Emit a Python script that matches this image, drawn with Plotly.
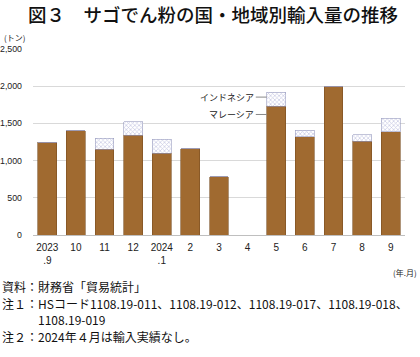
import plotly.graph_objects as go

categories = ["2023<br>.9", "10", "11", "12", "2024<br>.1", "2", "3", "4", "5", "6", "7", "8", "9"]
malaysia = [1250, 1400, 1150, 1340, 1100, 1160, 780, 0, 1730, 1320, 2000, 1260, 1390]
indonesia = [0, 0, 150, 180, 190, 0, 0, 0, 190, 90, 0, 90, 180]
y_ticks = [0, 500, 1000, 1500, 2000, 2500]
y_tick_labels = ["0", "500", "1,000", "1,500", "2,000", "2,500"]

FONT = "Liberation Sans, Arial, Noto Sans CJK JP, sans-serif"
JP = "Noto Sans CJK JP, sans-serif"
BROWN = "#A06A30"

fig = go.Figure()
fig.add_trace(go.Bar(
    x=list(range(len(categories))), y=malaysia, name="マレーシア",
    marker=dict(color=BROWN, line=dict(color="#7a4f22", width=0.6)),
))
fig.add_trace(go.Bar(
    x=list(range(len(categories))), y=indonesia, name="インドネシア",
    marker=dict(color="white", line=dict(color="#9a9cc0", width=0.6),
                pattern=dict(shape="x", fgcolor="#9094c8", bgcolor="white", size=3, solidity=0.4)),
))

fig.update_layout(
    width=420, height=357,
    margin=dict(l=33, r=15, t=49, b=122, autoexpand=False),
    barmode="stack", bargap=0.34,
    showlegend=False,
    plot_bgcolor="white", paper_bgcolor="white",
    font=dict(family=FONT, size=10, color="#222"),
)
fig.update_xaxes(
    tickmode="array", tickvals=list(range(len(categories))), ticktext=categories,
    range=[-0.5, len(categories) - 0.5], automargin=False,
    showline=True, linecolor="#bfbfbf", linewidth=1, ticks="",
    tickfont=dict(size=10, family=FONT), ticklabelstandoff=3,
)
fig.update_yaxes(
    range=[0, 2500], tickmode="array", tickvals=y_ticks, ticktext=y_tick_labels,
    showgrid=True, gridcolor="#d9d9d9", gridwidth=1, zeroline=False, automargin=False,
    ticks="", tickfont=dict(size=8.8, family=FONT), ticklabelstandoff=10,
)

# series labels next to the May 2024 bar
idx = 8
fig.add_annotation(x=idx - 0.33, y=malaysia[idx] + indonesia[idx] * 0.65, text="インドネシア",
                   showarrow=True, arrowhead=0, arrowwidth=1, arrowcolor="#888",
                   ax=-11, ay=0, xanchor="right", font=dict(family=JP, size=9, color="#222"))
fig.add_annotation(x=idx - 0.33, y=malaysia[idx] - 110, text="マレーシア",
                   showarrow=True, arrowhead=0, arrowwidth=1, arrowcolor="#888",
                   ax=-11, ay=0, xanchor="right", font=dict(family=JP, size=9, color="#222"))

# title and texts
fig.add_annotation(xref="paper", yref="paper", x=0.485, y=1, yshift=50, yanchor="top",
                   xanchor="center", showarrow=False,
                   text="図３　サゴでん粉の国・地域別輸入量の推移",
                   font=dict(family=JP, size=18.5, color="#111", weight=500))
fig.add_annotation(xref="paper", yref="paper", x=0, xshift=-31, y=1, yshift=19, yanchor="top",
                   xanchor="left", showarrow=False, text="(トン)",
                   font=dict(family=JP, size=8, color="#222"))
fig.add_annotation(xref="paper", yref="paper", x=1, xshift=14, y=0, yshift=-30, yanchor="top",
                   xanchor="right", showarrow=False, text="(年.月)",
                   font=dict(family=JP, size=8, color="#222"))

notes = [
    "資料：財務省「貿易統計」",
    "注１：HSコード1108.19-011、1108.19-012、1108.19-017、1108.19-018、",
    "　　　1108.19-019",
    "注２：2024年４月は輸入実績なし。",
]
for i, t in enumerate(notes):
    fig.add_annotation(xref="paper", yref="paper", x=0, xshift=-33, y=0, yshift=-41 - i * 16.7,
                       yanchor="top", xanchor="left", showarrow=False, text=t,
                       font=dict(family=JP, size=12, color="#111"))

fig.write_html("out.html", config={"displayModeBar": False},
               post_script="document.body.style.margin='0';document.body.style.padding='0';")
